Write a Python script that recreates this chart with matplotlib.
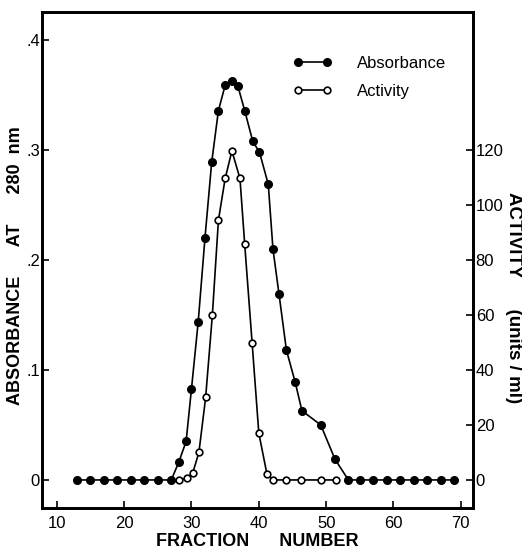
import matplotlib.pyplot as plt

plt.rcParams['font.family'] = ['Liberation Sans', 'DejaVu Sans']

# Absorbance at 280 nm (filled circles, left axis)
abs_fraction = [13, 15, 17, 19, 21, 23, 25, 27, 28.1, 29.2, 30, 31, 32, 33, 34, 35, 36,
                36.9, 37.9, 39.1, 40.1, 41.4, 42.1, 43, 44.1, 45.4, 46.4, 49.2, 51.3,
                53.3, 55, 57, 59, 61, 63, 65, 67, 69]
absorbance = [0, 0, 0, 0, 0, 0, 0, 0, 0.016, 0.035, 0.083, 0.144, 0.220, 0.289, 0.336,
              0.359, 0.363, 0.358, 0.336, 0.308, 0.298, 0.269, 0.210, 0.169, 0.118,
              0.089, 0.063, 0.050, 0.019, 0, 0, 0, 0, 0, 0, 0, 0, 0]

# Activity in units/ml (open circles, right axis)
act_fraction = [28.2, 29.3, 30.2, 31.1, 32.1, 33.1, 34, 35, 36, 37.2, 37.9, 39, 40,
                41.2, 42.1, 44.1, 46.2, 49.2, 51.4]
activity = [0, 0.6, 2.7, 10, 30, 60, 94.5, 109.7, 119.7, 109.7, 85.8, 50, 17, 2.2,
            0, 0, 0, 0, 0]

fig = plt.figure(figsize=(5.22, 5.53), dpi=100)
ax = fig.add_axes([0.0805, 0.0814, 0.8255, 0.8966])
ax2 = ax.twinx()

ax.plot(abs_fraction, absorbance, color='black', lw=1.2, marker='o', ms=5.5,
        mfc='black', mec='black', label='Absorbance')
ax2.plot(act_fraction, activity, color='black', lw=1.2, marker='o', ms=4.8,
         mfc='white', mec='black', mew=1.2, label='Activity')

ylo, yhi = -0.0255, 0.4255
ax.set_xlim(7.8, 71.8)
ax.set_ylim(ylo, yhi)
ax2.set_ylim(ylo * 400, yhi * 400)

ax.set_xticks([10, 20, 30, 40, 50, 60, 70])
ax.set_yticks([0, 0.1, 0.2, 0.3, 0.4])
ax.set_yticklabels(['0', '.1', '.2', '.3', '.4'])
ax2.set_yticks([0, 20, 40, 60, 80, 100, 120])

for a in (ax, ax2):
    for s in a.spines.values():
        s.set_linewidth(2)
    a.tick_params(direction='in', length=5, width=1.2, labelsize=12, pad=4)
ax.tick_params(axis='x', pad=6)
ax.tick_params(axis='y', pad=1.5)
ax2.tick_params(axis='y', pad=2)

ax.set_xlabel('FRACTION      NUMBER', fontsize=13, fontweight='bold', va='center')
ax.xaxis.set_label_coords(0.5, -0.068)
ax.set_ylabel('ABSORBANCE      AT      280  nm', fontsize=13, fontweight='bold',
              va='center')
ax.yaxis.set_label_coords(-0.061, 0.488)
ax2.set_ylabel('ACTIVITY      (units / ml)', fontsize=13.5, fontweight='bold',
               rotation=-90, va='center')
ax2.yaxis.set_label_coords(1.093, 0.425)

h1, l1 = ax.get_legend_handles_labels()
h2, l2 = ax2.get_legend_handles_labels()
ax2.legend(h1 + h2, l1 + l2, loc='upper left', bbox_to_anchor=(0.582, 0.912),
           frameon=False, numpoints=2, handlelength=2.35, handletextpad=1.5,
           labelspacing=0.8, borderpad=0, borderaxespad=0, fontsize=12)

fig.savefig('out.png', dpi=100)
